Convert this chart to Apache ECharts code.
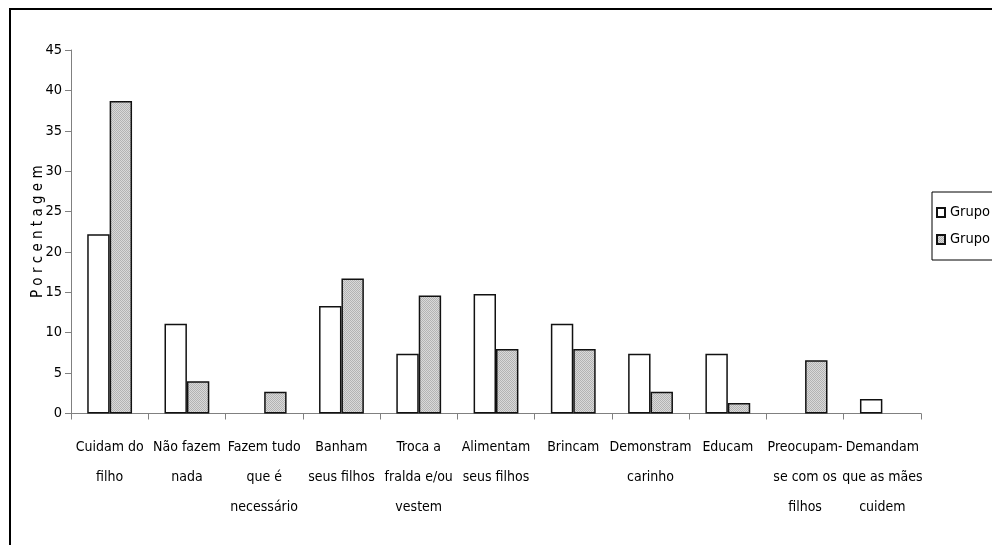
<!DOCTYPE html>
<html>
<head>
<meta charset="utf-8">
<script src="https://cdn.jsdelivr.net/npm/echarts@6/dist/echarts.min.js"></script>
<style>
  html, body { margin: 0; padding: 0; background: #fff; }
  #chart { width: 992px; height: 545px; }
</style>
</head>
<body>
<div id="chart"></div>
<script>
// Categories (line breaks as printed under each group)
const categories = [
  'Cuidam do\nfilho',
  'Não fazem\nnada',
  'Fazem tudo\nque é\nnecessário',
  'Banham\nseus filhos',
  'Troca a\nfralda e/ou\nvestem',
  'Alimentam\nseus filhos',
  'Brincam',
  'Demonstram\ncarinho',
  'Educam',
  'Preocupam-\nse com os\nfilhos',
  'Demandam\nque as mães\ncuidem'
];

// Percentages per group
const grupoA = [22.2, 11.1, 0, 13.3, 7.4, 14.8, 11.1, 7.4, 7.4, 0, 1.8];
const grupoB = [38.7, 4.0, 2.7, 16.7, 14.6, 8.0, 8.0, 2.7, 1.3, 6.6, 0];

const seriesNames = ['Grupo A', 'Grupo B'];
const yTicks = { min: 0, max: 45, interval: 5 };

// Fine grey texture for the second group
function makeTexture() {
  const c = document.createElement('canvas');
  c.width = 2; c.height = 2;
  const g = c.getContext('2d');
  g.fillStyle = '#d9d9d9'; g.fillRect(0, 0, 2, 2);
  g.fillStyle = '#b3b3b3'; g.fillRect(0, 0, 1, 1); g.fillRect(1, 1, 1, 1);
  return c;
}

// Zero values leave no visible bar outline
function toItems(values) {
  return values.map(v => v === 0 ? { value: v, itemStyle: { borderWidth: 0 } } : v);
}

const fontFamily = '"Liberation Sans Narrow", "DejaVu Sans", sans-serif';
const stretch = 'condensed';

const chart = echarts.init(document.getElementById('chart'), null, { renderer: 'canvas' });

chart.setOption({
  animation: false,
  backgroundColor: '#fff',
  textStyle: { fontFamily: fontFamily, color: '#000' },
  graphic: [{
    type: 'rect',
    shape: { x: 10, y: 9, width: 1100, height: 700 },
    style: { fill: 'none', stroke: '#000', lineWidth: 2 },
    silent: true,
    z: 100
  }],
  grid: { left: 71, right: 71, top: 50, bottom: 131.5 },
  legend: {
    orient: 'vertical',
    left: 932,
    top: 192,
    data: seriesNames,
    icon: 'rect',
    itemWidth: 8,
    itemHeight: 9,
    itemGap: 12,
    padding: [13, 8, 13, 4],
    borderColor: '#000',
    borderWidth: 1,
    backgroundColor: '#fff',
    textStyle: { fontFamily: fontFamily, fontWeight: stretch, fontSize: 14.5, color: '#000' }
  },
  xAxis: {
    type: 'category',
    data: categories,
    axisLine: { lineStyle: { color: '#808080', width: 1 } },
    axisTick: { show: true, length: 6, lineStyle: { color: '#808080' } },
    axisLabel: {
      interval: 0,
      margin: 19,
      fontSize: 14,
      lineHeight: 30,
      color: '#000',
      fontFamily: fontFamily,
      fontWeight: stretch,
      align: 'center'
    }
  },
  yAxis: {
    type: 'value',
    min: yTicks.min,
    max: yTicks.max,
    interval: yTicks.interval,
    name: 'P o r c e n t a g e m',
    nameLocation: 'middle',
    nameGap: 25,
    nameMoveOverlap: false,
    nameTextStyle: { fontSize: 15, color: '#000', fontFamily: fontFamily, fontWeight: stretch },
    axisLine: { show: true, lineStyle: { color: '#808080', width: 1 } },
    axisTick: { show: true, length: 6, lineStyle: { color: '#808080' } },
    axisLabel: { fontSize: 14.5, color: '#000', margin: 9, fontFamily: fontFamily, fontWeight: stretch },
    splitLine: { show: false }
  },
  series: [
    {
      name: seriesNames[0],
      type: 'bar',
      data: toItems(grupoA),
      barGap: '0%',
      barCategoryGap: '42%',
      itemStyle: { color: '#ffffff', borderColor: '#111', borderWidth: 1.5 }
    },
    {
      name: seriesNames[1],
      type: 'bar',
      data: toItems(grupoB),
      barGap: '0%',
      barCategoryGap: '42%',
      itemStyle: {
        color: { image: makeTexture(), repeat: 'repeat' },
        borderColor: '#111',
        borderWidth: 1.5
      }
    }
  ]
});
</script>
</body>
</html>
